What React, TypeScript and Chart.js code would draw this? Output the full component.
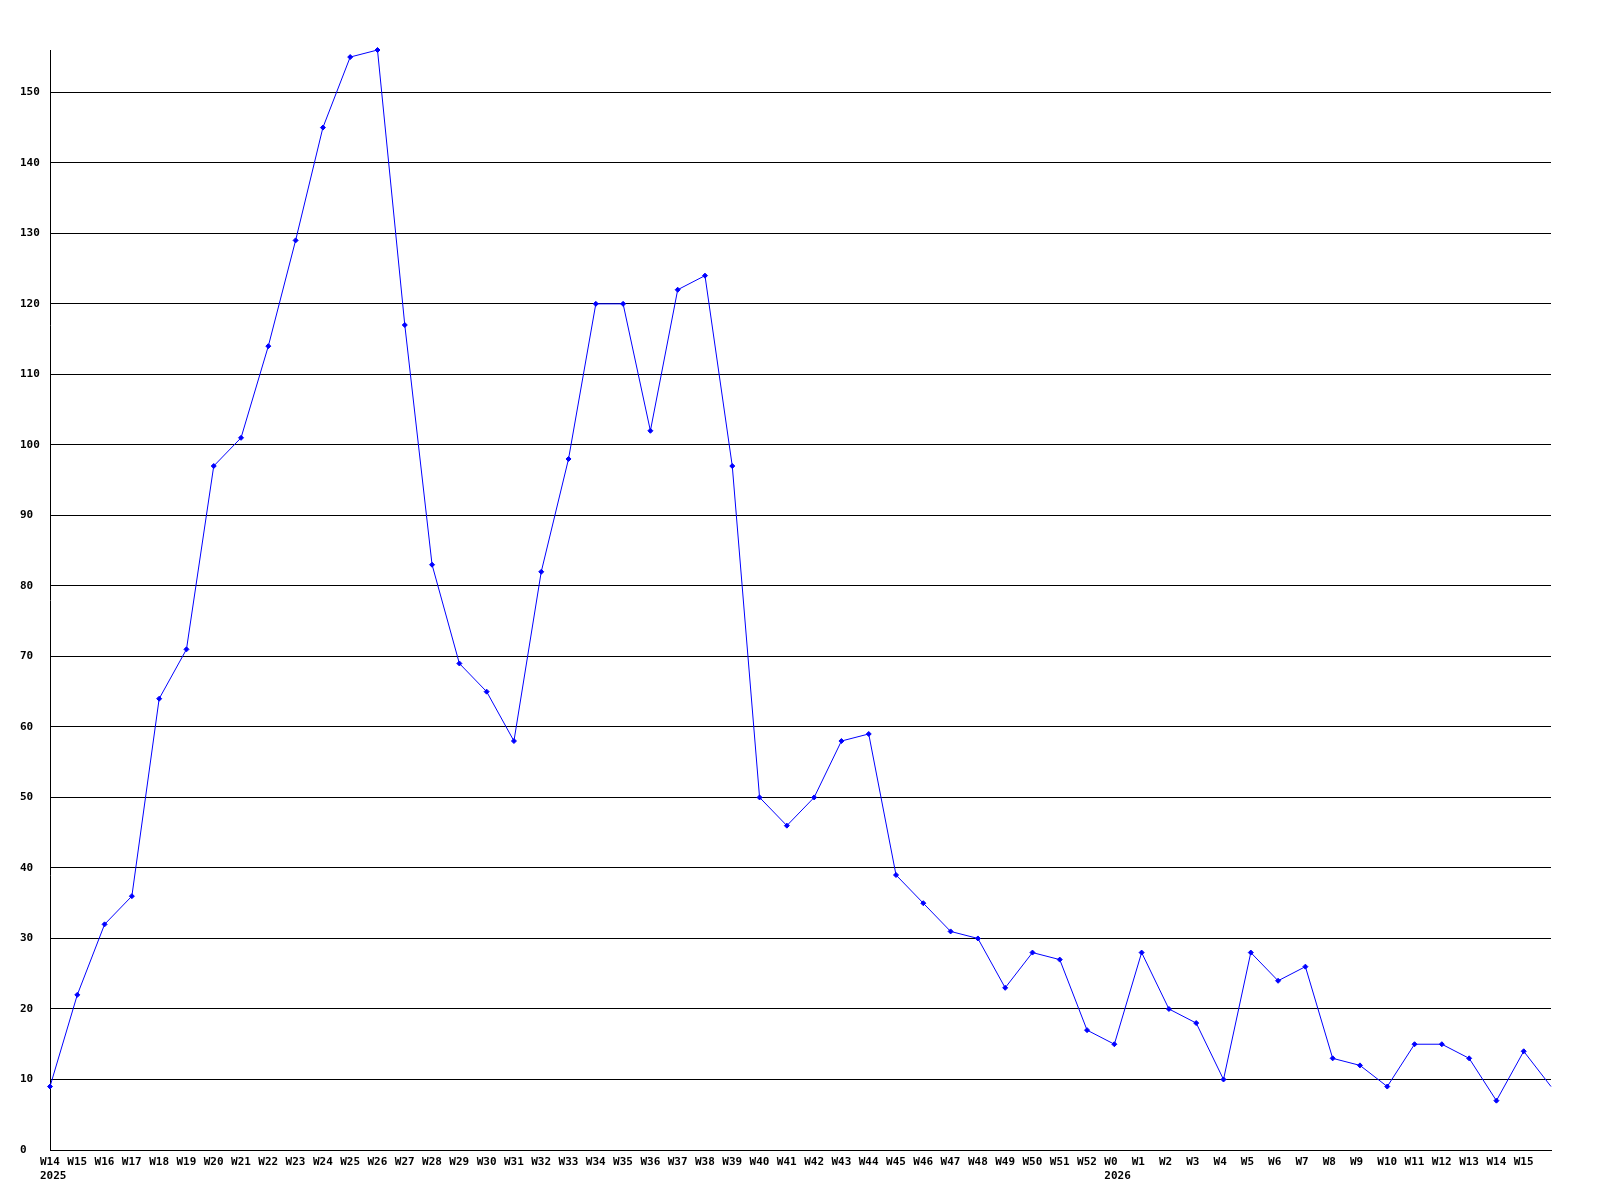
import React, { useEffect, useRef } from "react";
import { Chart, registerables } from "chart.js";

Chart.register(...registerables);

const weeks: string[] = [
  "W14", "W15", "W16", "W17", "W18", "W19", "W20", "W21", "W22", "W23",
  "W24", "W25", "W26", "W27", "W28", "W29", "W30", "W31", "W32", "W33",
  "W34", "W35", "W36", "W37", "W38", "W39", "W40", "W41", "W42", "W43",
  "W44", "W45", "W46", "W47", "W48", "W49", "W50", "W51", "W52",
  "W0", "W1", "W2", "W3", "W4", "W5", "W6", "W7", "W8", "W9",
  "W10", "W11", "W12", "W13", "W14", "W15", "",
];

const yearLabelIndex: number[] = [0, 39];
const yearLabelText: string[] = ["2025", "2026"];

const counts: number[] = [
  9, 22, 32, 36, 64, 71, 97, 101, 114, 129,
  145, 155, 156, 117, 83, 69, 65, 58, 82, 98,
  120, 120, 102, 122, 124, 97, 50, 46, 50, 58,
  59, 39, 35, 31, 30, 23, 28, 27, 17,
  15, 28, 20, 18, 10, 28, 24, 26, 13, 12,
  9, 15, 15, 13, 7, 14, 9,
];

const yMin = 0;
const yMax = 156;
const yStep = 10;

export default function App() {
  const ref = useRef<HTMLCanvasElement | null>(null);

  useEffect(() => {
    if (!ref.current) return;
    const labels = weeks.map((w, i) => {
      const k = yearLabelIndex.indexOf(i);
      return k >= 0 ? [w, yearLabelText[k]] : w;
    });
    const font = { family: "'DejaVu Sans Mono', monospace", size: 11, weight: "bold" as const, lineHeight: 1.3 };
    const last = counts.length - 1;
    const chart = new Chart(ref.current, {
      type: "line",
      data: {
        labels,
        datasets: [
          {
            data: counts,
            borderColor: "#0000ff",
            backgroundColor: "#0000ff",
            borderWidth: 1,
            tension: 0,
            fill: false,
            pointStyle: "rectRot",
            pointRadius: (ctx: any) => (ctx.dataIndex === last ? 0 : 2.5),
            pointBackgroundColor: "#0000ff",
            pointBorderColor: "#0000ff",
            pointBorderWidth: 1,
            clip: false as any,
          },
        ],
      },
      options: {
        animation: false,
        responsive: false,
        maintainAspectRatio: false,
        layout: { padding: { left: 20, top: 50, right: 49, bottom: 0 } },
        plugins: {
          legend: { display: false },
          tooltip: { enabled: false },
          title: { display: false },
        },
        scales: {
          x: {
            type: "category",
            offset: false,
            afterFit: (s: any) => {
              s.height = 50;
            },
            grid: { display: false, drawTicks: false, tickLength: 0 },
            border: { display: true, color: "#000000", width: 1 },
            ticks: {
              autoSkip: false,
              maxRotation: 0,
              minRotation: 0,
              align: "start",
              labelOffset: -10,
              padding: 5,
              color: "#000000",
              font,
            },
          },
          y: {
            min: yMin,
            max: yMax,
            afterFit: (s: any) => {
              s.width = 30;
            },
            grid: { color: "#000000", lineWidth: 1, drawTicks: false, tickLength: 0 },
            border: { display: true, color: "#000000", width: 1 },
            ticks: {
              stepSize: yStep,
              includeBounds: false,
              crossAlign: "far",
              padding: 0,
              color: "#000000",
              font,
            },
          },
        },
      },
    });
    return () => chart.destroy();
  }, []);

  return (
    <div style={{ position: "absolute", left: 0, top: 0, width: 1600, height: 1200, background: "#ffffff" }}>
      <canvas ref={ref} width={1600} height={1200} style={{ display: "block" }} />
    </div>
  );
}
